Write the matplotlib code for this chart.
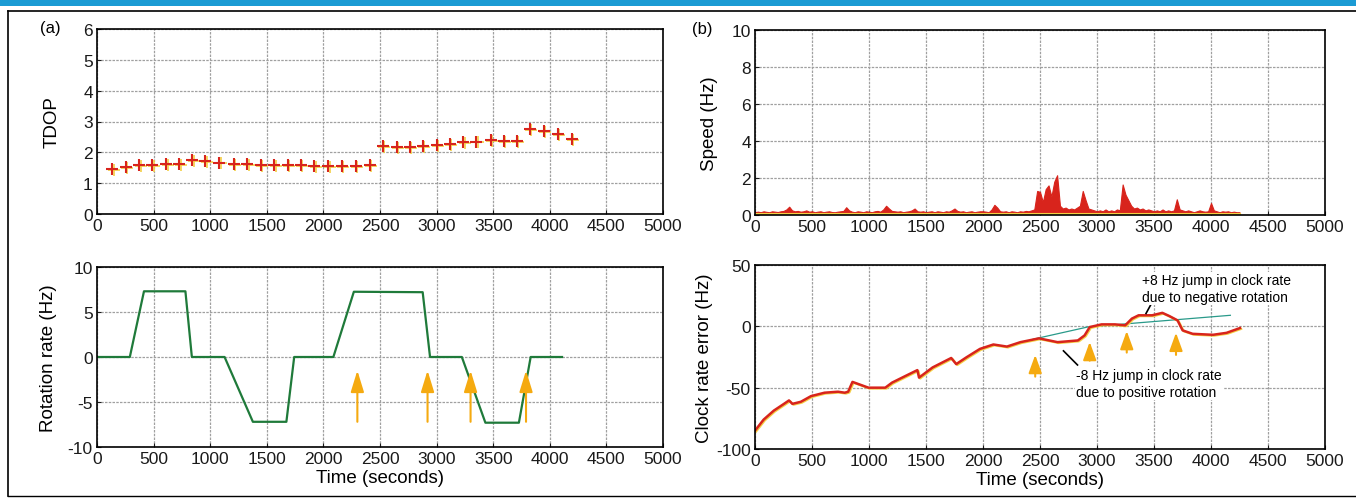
import numpy as np
import matplotlib
matplotlib.use("Agg")
import matplotlib.pyplot as plt
from matplotlib.patches import Rectangle
from matplotlib.lines import Line2D

plt.rcParams["font.family"] = ["Liberation Sans", "DejaVu Sans"]
plt.rcParams["axes.unicode_minus"] = False

# (a) top: TDOP
tdop_t = [134, 252, 375, 490, 612, 727, 842, 956, 1079, 1209, 1327, 1446, 1568, 1683,
          1798, 1920, 2043, 2165, 2288, 2410,
          2525, 2647, 2762, 2877, 3003, 3118, 3236, 3351, 3478, 3596, 3711, 3826,
          3948, 4070, 4193]
tdop = [1.45, 1.51, 1.58, 1.58, 1.63, 1.63, 1.75, 1.71, 1.67, 1.62, 1.62, 1.58, 1.58,
        1.58, 1.58, 1.57, 1.57, 1.57, 1.57, 1.59,
        2.21, 2.17, 2.16, 2.19, 2.23, 2.27, 2.32, 2.35, 2.39, 2.38, 2.38, 2.77,
        2.68, 2.60, 2.44]

# (a) bottom: rotation rate profile (breakpoints)
rot_t = [0, 290, 415, 781, 838, 1127, 1377, 1673, 1742, 2088, 2269, 2877, 2942,
         3223, 3431, 3727, 3831, 4108]
rot = [0, 0, 7.3, 7.3, 0, 0, -7.2, -7.2, 0, 0, 7.25, 7.2, 0, 0, -7.3, -7.3, 0, 0]
rot_arrows_t = [2300, 2920, 3300, 3790]

# (b) top: speed, 25 s samples from 0 to 4250 s
speed_t = np.arange(0, 4275, 25)
speed = [
    0.15, 0.18, 0.15, 0.20, 0.17, 0.15, 0.20, 0.18, 0.16, 0.20,
    0.22, 0.30, 0.45, 0.25, 0.20, 0.22, 0.18, 0.20, 0.25, 0.18,
    0.20, 0.15, 0.18, 0.20, 0.15, 0.18, 0.20, 0.16, 0.15, 0.18,
    0.20, 0.22, 0.42, 0.25, 0.18, 0.15, 0.20, 0.18, 0.15, 0.20,
    0.18, 0.15, 0.20, 0.22, 0.18, 0.30, 0.50, 0.35, 0.22, 0.20,
    0.18, 0.20, 0.15, 0.18, 0.20, 0.25, 0.35, 0.20, 0.18, 0.20,
    0.15, 0.18, 0.20, 0.15, 0.20, 0.18, 0.15, 0.20, 0.18, 0.25,
    0.35, 0.22, 0.18, 0.20, 0.15, 0.18, 0.20, 0.15, 0.18, 0.20,
    0.20, 0.18, 0.15, 0.30, 0.55, 0.40, 0.20, 0.18, 0.20, 0.15,
    0.20, 0.18, 0.15, 0.20, 0.18, 0.22, 0.20, 0.25, 0.30, 1.30,
    1.25, 0.70, 1.40, 1.60, 1.00, 1.80, 2.15, 0.50, 0.35, 0.40,
    0.30, 0.35, 0.30, 0.40, 0.50, 1.30, 0.80, 0.35, 0.30, 0.25,
    0.20, 0.25, 0.20, 0.30, 0.20, 0.25, 0.20, 0.30, 0.25, 1.65,
    1.10, 0.80, 0.50, 0.35, 0.40, 0.30, 0.35, 0.25, 0.30, 0.25,
    0.20, 0.25, 0.20, 0.30, 0.20, 0.25, 0.20, 0.25, 0.85, 0.30,
    0.25, 0.20, 0.25, 0.20, 0.15, 0.20, 0.25, 0.20, 0.18, 0.20,
    0.65, 0.25, 0.20, 0.15, 0.20, 0.18, 0.20, 0.15, 0.18, 0.15, 0.15,
]

# (b) bottom: clock rate error
clk_t = [0, 76, 165, 254, 298, 328, 402, 491, 610, 728, 787, 817, 855, 995, 1143,
         1202, 1321, 1424, 1439, 1558, 1721, 1765, 1854, 1973, 2091, 2210, 2328,
         2491, 2654, 2832, 2891, 2936, 3040, 3158, 3247, 3306, 3365, 3484, 3573,
         3632, 3706, 3751, 3839, 4017, 4136, 4254]
clk = [-85, -76, -68.7, -63.2, -60.4, -63.2, -61.5, -56.9, -54.1, -53.3, -54.1,
       -53.3, -45.3, -50, -50, -45.9, -40.4, -35.7, -41.8, -33.5, -25.8, -30.8,
       -25.3, -18.4, -14.8, -16.5, -12.9, -9.8, -12.9, -11.5, -7.4, -0.6, 1.6, 1.6,
       0.8, 6.3, 9, 9, 11, 8.5, 4.9, -3.3, -6.1, -6.9, -5.3, -1.4]
trend_t = [2440, 2920, 4170]
trend = [-10.5, -0.5, 9]
clk_arrows_t = [2458, 2936, 3261, 3693]
clk_arrows_tail = [-41, -28, -21.4, -23.3]
clk_arrows_tip = [-23.3, -12.7, -3.8, -5.2]

xticks = [0, 500, 1000, 1500, 2000, 2500, 3000, 3500, 4000, 4500, 5000]
RED = "#d8241c"
GREEN = "#1f7a3a"
ORANGE = "#f5aa10"
YELLOW = "#f4cf45"

fig = plt.figure(figsize=(13.56, 5.02), dpi=100)
W, H = 1356, 502


def make_ax(x0, x1, y0, y1):
    ax = fig.add_axes([x0 / W, 1 - y1 / H, (x1 - x0) / W, (y1 - y0) / H])
    ax.set_xlim(0, 5000)
    ax.set_xticks(xticks)
    ax.grid(True, color="#a0a0a0", lw=0.9, ls=(0, (2, 1)))
    ax.set_axisbelow(True)
    for s in ax.spines.values():
        s.set_linewidth(1.2)
    ax.tick_params(direction="in", length=3, labelsize=12.5, pad=3, colors="#1a1a1a")
    return ax


def orange_arrow(ax, x, tail, tip, hl):
    ax.annotate("", xy=(x, tip), xytext=(x, tail),
                arrowprops=dict(arrowstyle=f"-|>,head_width=0.4,head_length={hl}",
                                color=ORANGE, lw=1.5, shrinkA=0, shrinkB=0))


# (a) top
ax1 = make_ax(97, 663, 30, 215)
ax1.set_ylim(0, 6)
ax1.set_yticks(range(0, 7))
ax1.plot(np.array(tdop_t) + 12, np.array(tdop) - 0.03, ls="none", marker="+", ms=8,
         mew=1.2, color=YELLOW)
ax1.plot(tdop_t, tdop, ls="none", marker="+", ms=8.5, mew=1.5, color=RED)
ax1.set_ylabel("TDOP", fontsize=13.5, labelpad=16)
fig.text(40 / W, 1 - 29 / H, "(a)", fontsize=12, va="center")

# (a) bottom
ax2 = make_ax(97, 663, 268, 448)
ax2.set_ylim(-10, 10)
ax2.set_yticks([-10, -5, 0, 5, 10])
ax2.plot(rot_t, rot, color=GREEN, lw=1.6)
for t in rot_arrows_t:
    orange_arrow(ax2, t, -7.2, -1.5, 1.3)
ax2.set_ylabel("Rotation rate (Hz)", fontsize=13.5, labelpad=8)
ax2.set_xlabel("Time (seconds)", fontsize=13.5, labelpad=2)

# (b) top
ax3 = make_ax(755, 1325, 31, 216)
ax3.set_ylim(0, 10)
ax3.set_yticks([0, 2, 4, 6, 8, 10])
ax3.plot(speed_t, np.full(len(speed_t), 0.04), color=YELLOW, lw=1.5)
ax3.fill_between(speed_t, 0.08, speed, color=RED, lw=0.8, edgecolor=RED)
ax3.set_ylabel("Speed (Hz)", fontsize=13.5, labelpad=10)
fig.text(692 / W, 1 - 30 / H, "(b)", fontsize=12, va="center")

# (b) bottom
ax4 = make_ax(755, 1325, 266, 450)
ax4.set_ylim(-100, 50)
ax4.set_yticks([-100, -50, 0, 50])
ax4.plot(trend_t, trend, color="#2a9a8a", lw=0.9)
ax4.plot(np.array(clk_t) + 10, np.array(clk) - 0.7, color=YELLOW, lw=1.6)
ax4.plot(clk_t, clk, color=RED, lw=1.8)
for t, a, b in zip(clk_arrows_t, clk_arrows_tail, clk_arrows_tip):
    orange_arrow(ax4, t, a, b, 1.1)
ax4.plot([3430, 3480], [10.5, 19], color="k", lw=1.2)
ax4.text(3395, 31, "+8 Hz jump in clock rate\ndue to negative rotation",
         fontsize=10, va="center", ha="left", linespacing=1.25,
         bbox=dict(facecolor="white", edgecolor="none", pad=1))
ax4.plot([2706, 2829], [-20, -31.5], color="k", lw=1.2)
ax4.text(2820, -46.5, "-8 Hz jump in clock rate\ndue to positive rotation",
         fontsize=10, va="center", ha="left", linespacing=1.25,
         bbox=dict(facecolor="white", edgecolor="none", pad=1))
ax4.set_ylabel("Clock rate error (Hz)", fontsize=13.5, labelpad=2)
ax4.set_xlabel("Time (seconds)", fontsize=13.5, labelpad=2)

# page decoration: blue header band and frame
fig.add_artist(Rectangle((0, 1 - 7 / H), 1, 7 / H, transform=fig.transFigure,
                         color="#1b9bd4", lw=0))
fig.add_artist(Line2D([8 / W, 1], [1 - 12 / H, 1 - 12 / H], color="k", lw=1.2,
                      transform=fig.transFigure))
fig.add_artist(Line2D([8 / W, 8 / W], [1 - 12 / H, 5 / H], color="k", lw=1.2,
                      transform=fig.transFigure))
fig.add_artist(Line2D([8 / W, 1], [5 / H, 5 / H], color="k", lw=1.0,
                      transform=fig.transFigure))

fig.savefig("out.png", dpi=100)
